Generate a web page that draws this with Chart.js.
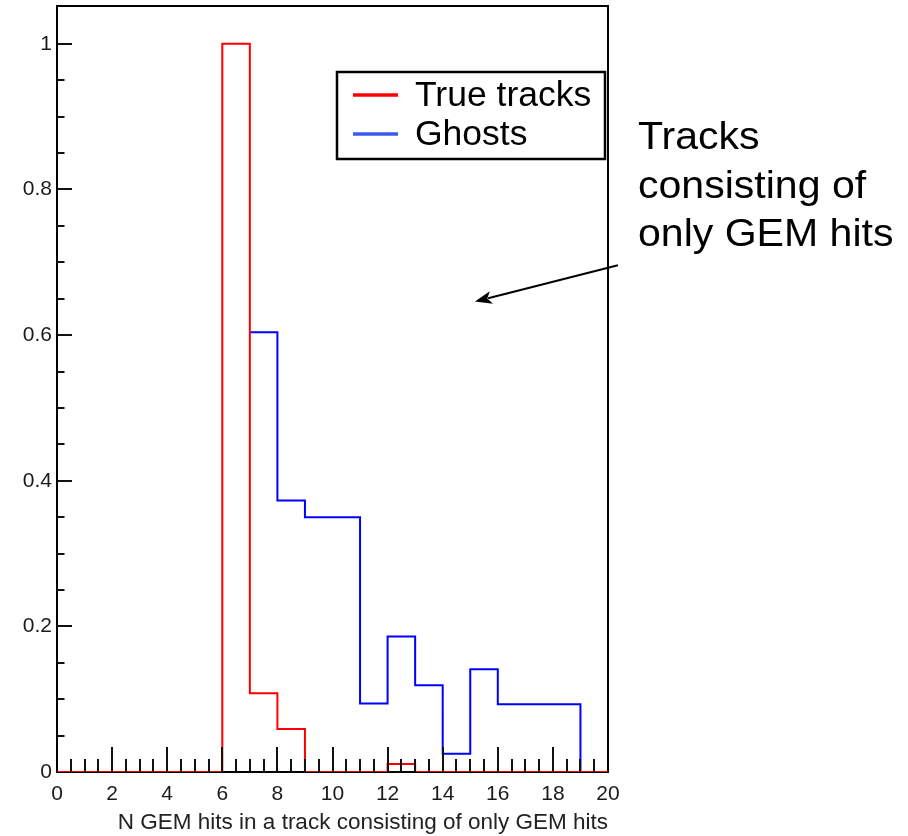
<!DOCTYPE html>
<html>
<head>
<meta charset="utf-8">
<script src="https://cdn.jsdelivr.net/npm/chart.js@4/dist/chart.umd.min.js"></script>
<style>
  html, body { margin: 0; padding: 0; background: #ffffff; }
  #wrap { width: 908px; height: 836px; }
</style>
</head>
<body>
<div id="wrap"><canvas id="c" width="908" height="836"></canvas></div>
<script>
// Histogram bins: N GEM hits, unit-wide bins from 0 to 20
const binLow = [0, 1, 2, 3, 4, 5, 6, 7, 8, 9, 10, 11, 12, 13, 14, 15, 16, 17, 18, 19];
const binHigh = 20;

// Normalised bin contents
const trueTracks = [0, 0, 0, 0, 0, 0, 1.0, 0.108, 0.059, 0, 0, 0, 0.011, 0, 0, 0, 0, 0, 0, 0];
const ghosts     = [null, null, null, null, null, null, null, 0.604, 0.373, 0.350, 0.350, 0.094, 0.186, 0.119, 0.025, 0.141, 0.093, 0.093, 0.093, 0];

const xTickLabels = ['0', '2', '4', '6', '8', '10', '12', '14', '16', '18', '20'];
const yTickLabels = ['0', '0.2', '0.4', '0.6', '0.8', '1'];

const seriesNames = ['True tracks', 'Ghosts'];
const xTitle = 'N GEM hits in a track consisting of only GEM hits';
const noteLines = ['Tracks', 'consisting of', 'only GEM hits'];

// Build step-outline points (bin low edge, content); the red outline closes at the upper edge
function stepPoints(values, closeAtEnd) {
  const pts = [];
  values.forEach((v, i) => { if (v !== null) pts.push({ x: binLow[i], y: v }); });
  if (closeAtEnd) pts.push({ x: binHigh, y: values[values.length - 1] });
  return pts;
}

const FONT = '"Liberation Sans", Arial, Helvetica, sans-serif';

// Frame, inward ticks, boxed legend and the arrow note
const decorations = {
  id: 'decorations',
  beforeDatasetsDraw(chart) {
    const { ctx, chartArea: a } = chart;
    ctx.save();
    ctx.strokeStyle = '#000';
    ctx.lineWidth = 2;
    ctx.strokeRect(a.left, a.top, a.right - a.left, a.bottom - a.top);
    ctx.restore();
  },
  afterDatasetsDraw(chart) {
    const { ctx, chartArea: a, scales: { x, y } } = chart;
    ctx.save();
    ctx.strokeStyle = '#111';
    ctx.lineWidth = 2;
    // x-axis ticks: every 0.5, long ones every 2
    for (let k = 1; k < 40; k++) {
      const v = k * 0.5;
      const px = Math.round(x.getPixelForValue(v));
      const len = (k % 4 === 0) ? 25 : 13;
      ctx.beginPath();
      ctx.moveTo(px, a.bottom);
      ctx.lineTo(px, a.bottom - len);
      ctx.stroke();
    }
    // y-axis ticks: every 0.05, long ones every 0.2
    for (let k = 1; k <= 20; k++) {
      const v = k * 0.05;
      const py = Math.round(y.getPixelForValue(v));
      const len = (k % 4 === 0) ? 15 : 7.5;
      ctx.beginPath();
      ctx.moveTo(a.left, py);
      ctx.lineTo(a.left + len, py);
      ctx.stroke();
    }
    ctx.restore();
  },
  afterDraw(chart) {
    const { ctx, chartArea: a, scales: { x, y } } = chart;
    ctx.save();
    // legend box
    const bx = a.right - 271, by = a.top + 66, bw = 268, bh = 87;
    ctx.fillStyle = '#fff';
    ctx.fillRect(bx, by, bw, bh);
    ctx.strokeStyle = '#000';
    ctx.lineWidth = 2.5;
    ctx.strokeRect(bx, by, bw, bh);
    ctx.font = '35.5px ' + FONT;
    ctx.textBaseline = 'alphabetic';
    ctx.textAlign = 'left';
    chart.data.datasets.forEach((ds, i) => {
      const ly = by + 23 + i * 39;
      ctx.strokeStyle = ds.legendColor;
      ctx.lineWidth = 3.5;
      ctx.beginPath();
      ctx.moveTo(bx + 16, ly);
      ctx.lineTo(bx + 61, ly);
      ctx.stroke();
      ctx.fillStyle = '#000';
      ctx.fillText(ds.label, bx + 78, ly + 11);
    });

    // side note
    ctx.fillStyle = '#000';
    ctx.font = '38px ' + FONT;
    noteLines.forEach((t, i) => {
      ctx.save();
      ctx.translate(638, 149 + i * 48.5);
      ctx.scale(1.08, 1);
      ctx.fillText(t, 0, 0);
      ctx.restore();
    });

    // arrow pointing into the plot
    const x0 = x.getPixelForValue(20.36), y0 = y.getPixelForValue(0.696);
    const x1 = x.getPixelForValue(15.17), y1 = y.getPixelForValue(0.646);
    const ang = Math.atan2(y1 - y0, x1 - x0);
    const hl = 17, hw = 6.5;
    ctx.strokeStyle = '#000';
    ctx.lineWidth = 2;
    ctx.beginPath();
    ctx.moveTo(x0, y0);
    ctx.lineTo(x1 - Math.cos(ang) * hl * 0.8, y1 - Math.sin(ang) * hl * 0.8);
    ctx.stroke();
    ctx.beginPath();
    ctx.moveTo(x1, y1);
    ctx.lineTo(x1 - Math.cos(ang) * hl - Math.sin(ang) * hw, y1 - Math.sin(ang) * hl + Math.cos(ang) * hw);
    ctx.lineTo(x1 - Math.cos(ang) * hl * 0.75, y1 - Math.sin(ang) * hl * 0.75);
    ctx.lineTo(x1 - Math.cos(ang) * hl + Math.sin(ang) * hw, y1 - Math.sin(ang) * hl - Math.cos(ang) * hw);
    ctx.closePath();
    ctx.fillStyle = '#000';
    ctx.fill();
    ctx.restore();
  }
};

new Chart(document.getElementById('c'), {
  type: 'line',
  data: {
    datasets: [
      {
        label: seriesNames[0],
        data: stepPoints(trueTracks, true),
        borderColor: '#ff0000',
        legendColor: '#ff0000',
        borderWidth: 2,
        stepped: 'before',
        pointRadius: 0,
        fill: false
      },
      {
        label: seriesNames[1],
        data: stepPoints(ghosts, false),
        borderColor: '#0000ff',
        legendColor: '#3a5af0',
        borderWidth: 2,
        stepped: 'before',
        pointRadius: 0,
        fill: false
      }
    ]
  },
  options: {
    responsive: false,
    animation: false,
    events: [],
    layout: { padding: { top: 6, right: 300, left: 0, bottom: 0 } },
    plugins: { legend: { display: false }, tooltip: { enabled: false } },
    scales: {
      x: {
        type: 'linear',
        min: 0,
        max: 20,
        afterFit: s => { s.height = 64; s.paddingLeft = 0; s.paddingRight = 0; },
        afterBuildTicks: s => { s.ticks = xTickLabels.map(t => ({ value: Number(t) })); },
        grid: { display: false, drawTicks: false },
        border: { display: false },
        ticks: {
          stepSize: 2,
          includeBounds: false,
          autoSkip: false,
          maxRotation: 0,
          padding: 10,
          color: '#1a1a1a',
          font: { family: FONT, size: 21 },
          callback: (v, i) => xTickLabels[i]
        },
        title: {
          display: true,
          text: xTitle,
          align: 'end',
          color: '#222',
          font: { family: FONT, size: 22.5 },
          padding: { top: 0, bottom: 0 }
        }
      },
      y: {
        type: 'linear',
        min: 0,
        max: 1.052,
        afterFit: s => { s.width = 57; s.paddingTop = 0; s.paddingBottom = 0; },
        afterBuildTicks: s => { s.ticks = yTickLabels.map(t => ({ value: Number(t) })); },
        grid: { display: false, drawTicks: false },
        border: { display: false },
        ticks: {
          includeBounds: false,
          padding: 5,
          color: '#1a1a1a',
          font: { family: FONT, size: 21 },
          callback: (v, i) => yTickLabels[i]
        }
      }
    }
  },
  plugins: [decorations]
});
</script>
</body>
</html>
